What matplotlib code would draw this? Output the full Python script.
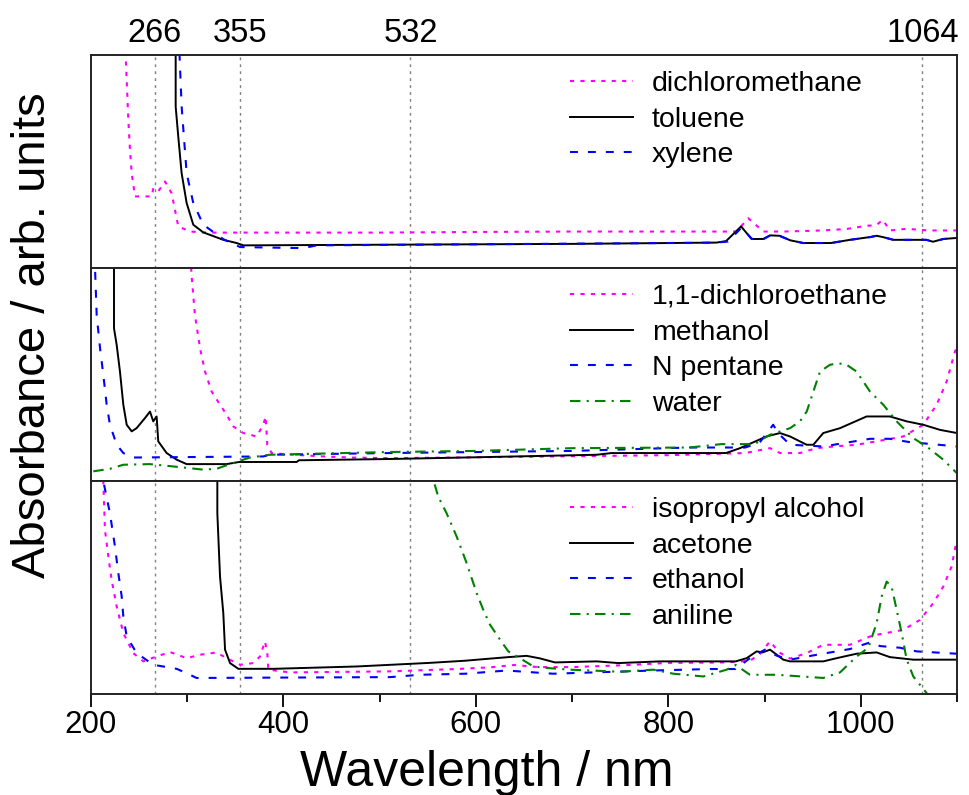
import matplotlib
matplotlib.use("Agg")
import matplotlib.pyplot as plt

plt.rcParams['font.family'] = ['Liberation Sans', 'DejaVu Sans']

# ---------------- data (wavelength in nm, absorbance in arb. units, 0-100 per panel) ---------------
laser_lines = [266, 355, 532, 1064]
laser_labels = ["266", "355", "532", "1064"]
x_ticks = [200, 400, 600, 800, 1000]
x_minor = [300, 500, 700, 900, 1100]

# top panel
dcm_wl = [233, 236, 238.8, 240.5, 242.3, 245.7, 263, 264.8, 270, 277, 283.8, 290.7, 302.9, 320, 400, 500,
          600, 700, 800, 860, 871, 883, 898.7, 920, 960, 985, 1006, 1016, 1023, 1030, 1047.7, 1070, 1100]
dcm_v = [130, 100, 69.5, 55.4, 44.4, 33.5, 33.5, 37.4, 36, 40.5, 35, 19.4, 17, 16.5, 16.5, 16.5,
         16.8, 17, 17, 17, 17, 23.3, 17, 17, 17.5, 18.2, 19.7, 20, 22.5, 17.5, 18.3, 17.5, 17.5]
tol_wl = [288, 288, 290.7, 294.2, 299.4, 306.3, 316.7, 337.5, 351.4, 358.3, 500, 700, 850, 860, 875.6,
          886.5, 898.7, 905.7, 916, 926.5, 940.3, 969, 988.8, 1009.6, 1016.5, 1023, 1033.8, 1068.4, 1075,
          1085.7, 1100]
tol_v = [130, 75.7, 61.6, 44.4, 30.4, 20.2, 16.6, 13.1, 11.6, 10.5, 10.8, 11.2, 11.8, 12.5, 19.4,
         13.5, 13.5, 15.2, 15.0, 12.9, 11.6, 11.6, 13.1, 14.4, 15.0, 14.4, 13.1, 13.1, 12.2, 13.5, 14.0]
xyl_wl = [290, 292, 294.2, 299.4, 306.3, 316.7, 337.5, 354.9, 420.7, 434.5, 600, 800, 850, 862, 876,
          887, 899, 906, 916, 927, 940, 969, 989, 1010, 1016, 1023, 1034, 1068, 1075, 1086, 1100]
xyl_v = [130, 100, 75.7, 44.4, 30.4, 20.2, 13.4, 9.7, 9.2, 10.5, 11, 11.6, 11.8, 12.3, 18.8,
         13.5, 13.5, 15.2, 14.8, 12.9, 11.6, 11.6, 13.1, 14.4, 15, 14.4, 13.1, 13.1, 12.2, 13.5, 14]

# middle panel
dce_wl = [303, 304.5, 308, 313.3, 318.5, 325.4, 334.1, 341, 347.9, 358.3, 372.1, 379.1, 381.5, 383.2,
          387.7, 400, 441.4, 470, 510.8, 600, 700, 800, 880, 905.7, 916, 936.8, 954, 972, 995.7, 1016.5,
          1044.2, 1065, 1078.8, 1089.2, 1097.9, 1100]
dce_v = [110, 96.7, 77.9, 62.3, 51.3, 41.9, 35.7, 31, 25.5, 22.4, 20.8, 26.3, 30.2, 16.9,
         13, 12.5, 11.4, 10.9, 10.6, 11, 11.5, 12, 13, 15.3, 13, 13, 15.3, 16.1, 16.9, 18.5,
         20.8, 26.3, 35.7, 46.6, 60.7, 63]
meth_wl = [223.9, 223.9, 226.7, 230.1, 233.6, 237.1, 242.3, 247.4, 256, 261.3, 264.7, 268.2, 269.9,
           278.6, 289, 299.4, 341, 354, 413.8, 416, 510.8, 609.5, 725.5, 741, 860, 874.5, 902, 916,
           926.5, 943.8, 950.7, 961, 978.4, 1006, 1030.3, 1047.7, 1065, 1082.3, 1100]
meth_v = [130, 71.7, 63.8, 51.3, 35.7, 26.3, 23.2, 24.7, 29.4, 32.5, 27.9, 30.2, 18.5,
          13, 9.9, 7.8, 7.8, 8.8, 8.8, 9.6, 10.2, 11.1, 12.2, 13, 13, 15.3, 20.8, 22.4,
          20.8, 16.9, 16.9, 22.4, 24.7, 30.2, 30.2, 27.9, 26.3, 23.9, 22.4]
pent_wl = [203, 205.9, 209.4, 212.8, 216.3, 219.7, 226.7, 233.6, 243.9, 379, 386, 510.8, 700, 822, 880,
           895, 909, 914, 926.5, 961, 1009.6, 1030, 1050, 1100]
pent_v = [115, 77.9, 62.3, 49.8, 35.7, 26.3, 16.9, 13, 10.9, 11.4, 12.2, 13, 14, 15.6, 15.6,
          18, 26.3, 22.4, 16.9, 16.1, 19.7, 19.7, 18.2, 16.1]
wat_wl = [202.4, 219.7, 233.6, 261, 285.5, 316.7, 330.5, 344.4, 365.2, 386, 510.8, 600, 700, 822, 855,
          890, 895, 905.7, 926.5, 936.8, 943.8, 950.7, 957.6, 968, 976.7, 985.3, 995.7, 1009.6, 1023.4,
          1037.3, 1054.6, 1068.4, 1085.7, 1099.7]
wat_v = [4.4, 5.6, 7.5, 7.8, 6.7, 5.2, 5.6, 7.8, 10.9, 12.2, 13.5, 14, 15.3, 15.6, 17.2,
         17.2, 18.8, 21.6, 24.7, 27.9, 32.5, 41.9, 51.3, 54.5, 55.2, 54.5, 51.3, 41.9, 35.7,
         27.9, 20, 16.1, 9.9, 3.6]

# bottom panel
ipa_wl = [211, 212.8, 214.5, 218, 221.4, 226.7, 233.6, 243.9, 254.4, 268.2, 282.1, 299.4, 313.3, 330.5,
          341, 354.9, 368.7, 375.6, 380.8, 383.2, 384.3, 406.8, 510.8, 580, 614.7, 640, 665, 700, 760,
          800, 860, 885, 895.3, 905.7, 915, 926.5, 943.8, 961, 988.8, 1009.6, 1016.5, 1044.2, 1061.5,
          1075.4, 1085.8, 1094.4, 1099.7]
ipa_v = [115, 100, 77, 64.5, 53.5, 41, 28.5, 19.1, 15.2, 17.5, 19.6, 16.7, 18.3, 19.4,
         16.7, 13.6, 14.4, 17.5, 24.6, 19.1, 11.3, 10, 10.5, 11.6, 12.4, 13.5, 12.5, 12.5, 13.5,
         14.5, 14.7, 15.5, 18.8, 24.6, 19.5, 16.5, 19.1, 23, 23, 26.9, 27.7, 30, 34.7,
         42.6, 50.4, 59.8, 72.3]
ace_wl = [331.3, 331.3, 334.1, 337.5, 339.3, 344.5, 353.1, 390, 476.1, 552.3, 588.7, 609.5, 633.7,
          652.7, 666.6, 682.2, 725.6, 748, 791.4, 870, 881.4, 891.8, 898, 905.7, 919.5, 926.5, 961,
          974.9, 995.7, 1016.5, 1030.3, 1054.6, 1100]
ace_v = [130, 84.8, 55, 37.9, 20.7, 14.4, 11.7, 11.7, 12.8, 14.5, 15.5, 16.3, 17.2,
         17.8, 16.6, 14.7, 15.2, 14.4, 15.2, 15.2, 16.7, 19.9, 19.4, 20.7, 16, 15.2, 15.2,
         16.7, 18.8, 19.4, 17.2, 16, 16]
eth_wl = [211, 212.8, 219.7, 224.9, 228.4, 231.9, 233.6, 237.1, 247.4, 264.7, 289, 300, 309.7, 510.8,
          542, 589, 632, 680, 784, 843.3, 870, 884.8, 900.4, 912.6, 926.5, 954.2, 988.8, 1009.6, 1020,
          1040.8, 1058, 1099.7]
eth_v = [115, 100, 84.8, 69.2, 56.7, 45.7, 36.3, 26.9, 19.1, 13.6, 11.7, 9.5, 7.4, 7.8,
         8.9, 9.4, 10.9, 9.4, 10.9, 11.6, 11.6, 16.7, 20.7, 17.9, 16, 18.3, 21, 24.1, 22.4,
         21.6, 19.9, 18.8]
ani_wl = [553, 555.8, 560.9, 569.6, 580, 590.4, 600.8, 607.7, 614.7, 625.1, 633.7, 645.8, 659.7, 673.6,
          697.8, 725.5, 749.8, 784.4, 805.2, 836.4, 860.6, 870, 884.8, 912.6, 961, 978.4, 995.7, 1007.8,
          1016.5, 1021.7, 1026.9, 1032, 1037.3, 1042.5, 1047.7, 1054.6, 1061.5, 1068.4, 1075]
ani_v = [110, 100.5, 92.6, 84.8, 73.9, 61.4, 47.3, 39.4, 32.4, 25.4, 19.9, 16.7, 12.8, 12.1,
         11.3, 10.8, 10.3, 11.3, 9.4, 8.1, 11.3, 13.5, 8.9, 8.9, 7.4, 10, 17.5, 21.6,
         33.2, 45.7, 52.7, 50.4, 39.4, 28.5, 16, 8.1, 4.2, 0.3, -5]

# ---------------- styles ----------------
MAG = dict(color='#FF00FF', lw=1.5, linestyle=(0, (2, 3)))
BLK = dict(color='black', lw=1.4, linestyle='-')
BLU = dict(color='#0000FF', lw=1.5, linestyle=(0, (3.8, 4.8)))
GRN = dict(color='#008000', lw=1.5, linestyle=(0, (5, 3, 1, 3)))

panels = [
    [("dichloromethane", dcm_wl, dcm_v, MAG), ("toluene", tol_wl, tol_v, BLK),
     ("xylene", xyl_wl, xyl_v, BLU)],
    [("1,1-dichloroethane", dce_wl, dce_v, MAG), ("methanol", meth_wl, meth_v, BLK),
     ("N pentane", pent_wl, pent_v, BLU), ("water", wat_wl, wat_v, GRN)],
    [("isopropyl alcohol", ipa_wl, ipa_v, MAG), ("acetone", ace_wl, ace_v, BLK),
     ("ethanol", eth_wl, eth_v, BLU), ("aniline", ani_wl, ani_v, GRN)],
]

W, H = 969, 795
fig = plt.figure(figsize=(W / 100, H / 100), dpi=100)
left, right = 91 / W, 957 / W
tops = [55, 268, 481]
ph = 212.7
axes = []
for i, top in enumerate(tops):
    ax = fig.add_axes([left, 1 - (top + ph) / H, right - left, ph / H])
    axes.append(ax)
    for series in panels[i]:
        name, wl, v, st = series
        ax.plot(wl, v, label=name, **st)
    for lx in laser_lines:
        ax.axvline(lx, color='#808080', lw=1.0, linestyle=(0, (2, 3)), zorder=0)
    ax.set_xlim(200, 1100)
    ax.set_ylim(0, 100)
    ax.set_yticks([])
    for s in ax.spines.values():
        s.set_linewidth(1.4)
        s.set_color('#222222')
    leg = ax.legend(loc='upper left', bbox_to_anchor=(0.553, 0.925), frameon=False,
                    fontsize=20.5, handlelength=2.2, handletextpad=0.67, labelspacing=0.34,
                    borderpad=0, borderaxespad=0)
    if i < 2:
        ax.set_xticks([])
    else:
        ax.set_xticks(x_ticks)
        ax.set_xticks(x_minor, minor=True)
        ax.tick_params(axis='x', which='major', direction='out', length=9.5, width=1.3,
                       labelsize=22.5, pad=2)
        ax.tick_params(axis='x', which='minor', direction='out', length=5.8, width=1.3)

sec = axes[0].secondary_xaxis('top')
sec.set_ticks(laser_lines)
sec.set_xticklabels(laser_labels)
sec.tick_params(length=0, labelsize=23.5, pad=4)
sec.spines['top'].set_visible(False)

fig.text(33 / W, 1 - 335 / H, "Absorbance / arb. units", rotation=90, ha='center', va='center',
         fontsize=34)
fig.text(487 / W, 1 - 786 / H, "Wavelength / nm", ha='center', va='baseline', fontsize=36)

fig.savefig("out.png", dpi=100)
